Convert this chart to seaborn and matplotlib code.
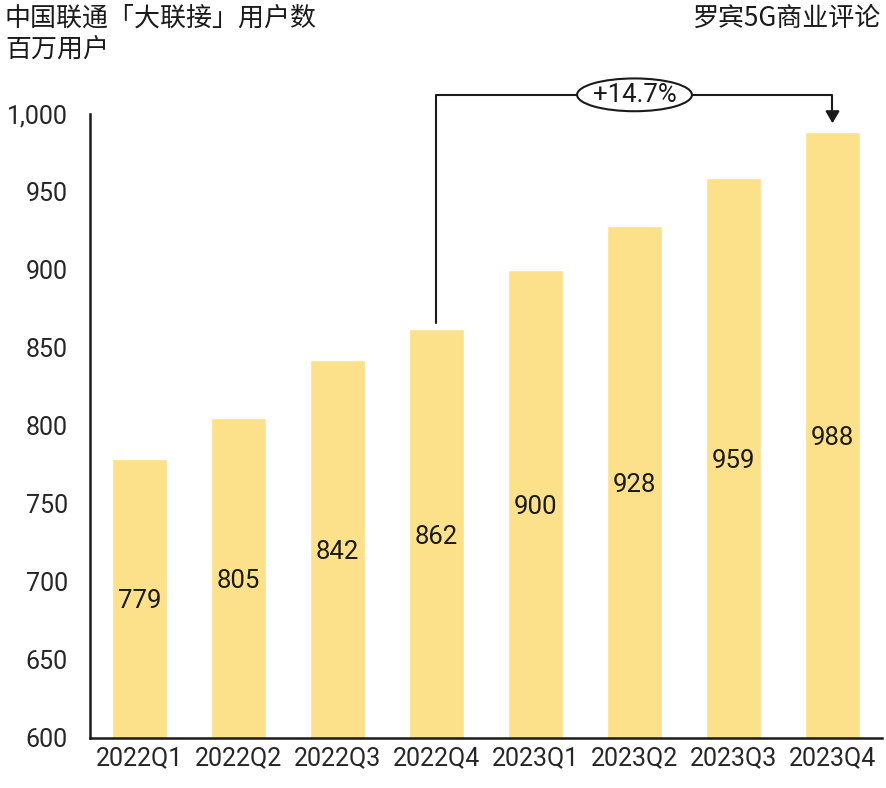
import pandas as pd
import matplotlib.pyplot as plt
import seaborn as sns
from matplotlib.patches import Ellipse

# 数据
quarters = ["2022Q1", "2022Q2", "2022Q3", "2022Q4", "2023Q1", "2023Q2", "2023Q3", "2023Q4"]
users = [779, 805, 842, 862, 900, 928, 959, 988]
growth_label = "+14.7%"

sns.set_theme(style="white")
plt.rcParams["font.family"] = ["Roboto", "Noto Sans CJK SC", "DejaVu Sans"]

df = pd.DataFrame({"quarter": quarters, "users": users})

fig = plt.figure(figsize=(8.87, 7.88), dpi=100)
ax = fig.add_axes([90 / 887, 50 / 788, 792 / 887, 690 / 788])

sns.barplot(data=df, x="quarter", y="users", color="#FDE08A", width=0.56,
            saturation=1, ax=ax)

ax.set_ylim(600, 1042)
ax.set_xlim(-0.5, 7.5)
ax.set_yticks(range(600, 1001, 50))
ax.set_yticklabels([f"{v:,}" for v in range(600, 1001, 50)])
ax.set_xlabel("")
ax.set_ylabel("")
ax.tick_params(axis="y", length=8, width=1.8, color="#1a1a1a", labelsize=18, pad=8)
ax.tick_params(axis="x", length=0, labelsize=18, pad=6)
for s in ["top", "right"]:
    ax.spines[s].set_visible(False)
for s in ["left", "bottom"]:
    ax.spines[s].set_linewidth(1.8)
    ax.spines[s].set_color("#1a1a1a")
ax.spines["left"].set_bounds(600, 1000)

# 柱内数值
for i, v in enumerate(users):
    ax.text(i, (600 + v) / 2 - 2, str(v), ha="center", va="center", fontsize=18.5, color="#1a1a1a")

# 增长标注
y_line = 1012
x0, x1 = 3, 7
ax.plot([x0, x0, x1, x1], [users[x0] + 4, y_line, y_line, users[x1] + 14],
        color="#1a1a1a", lw=1.5)
ax.annotate("", xy=(x1, users[x1] + 4), xytext=(x1, users[x1] + 14),
            arrowprops=dict(arrowstyle="-|>,head_width=0.35,head_length=0.6",
                            color="#1a1a1a", lw=1.5))
xm = (x0 + x1) / 2
ax.add_patch(Ellipse((xm, y_line), 1.16, 21, facecolor="white", edgecolor="#1a1a1a",
                     lw=1.5, zorder=3, clip_on=False))
ax.text(xm, y_line, growth_label, ha="center", va="center", fontsize=18.5,
        color="#1a1a1a", zorder=4)

cjk = ["Noto Sans CJK SC", "DejaVu Sans"]
fig.text(5 / 887, 1 - 18 / 788, "中国联通「大联接」用户数", ha="left", va="center",
         fontsize=18.7, color="#1a1a1a", family=cjk)
fig.text(5 / 887, 1 - 49 / 788, "百万用户", ha="left", va="center",
         fontsize=18.7, color="#1a1a1a", family=cjk)
fig.text(1 - 6 / 887, 1 - 18 / 788, "罗宾5G商业评论", ha="right", va="center",
         fontsize=18.7, color="#1a1a1a", family=cjk)

plt.savefig("out.png", dpi=100)
